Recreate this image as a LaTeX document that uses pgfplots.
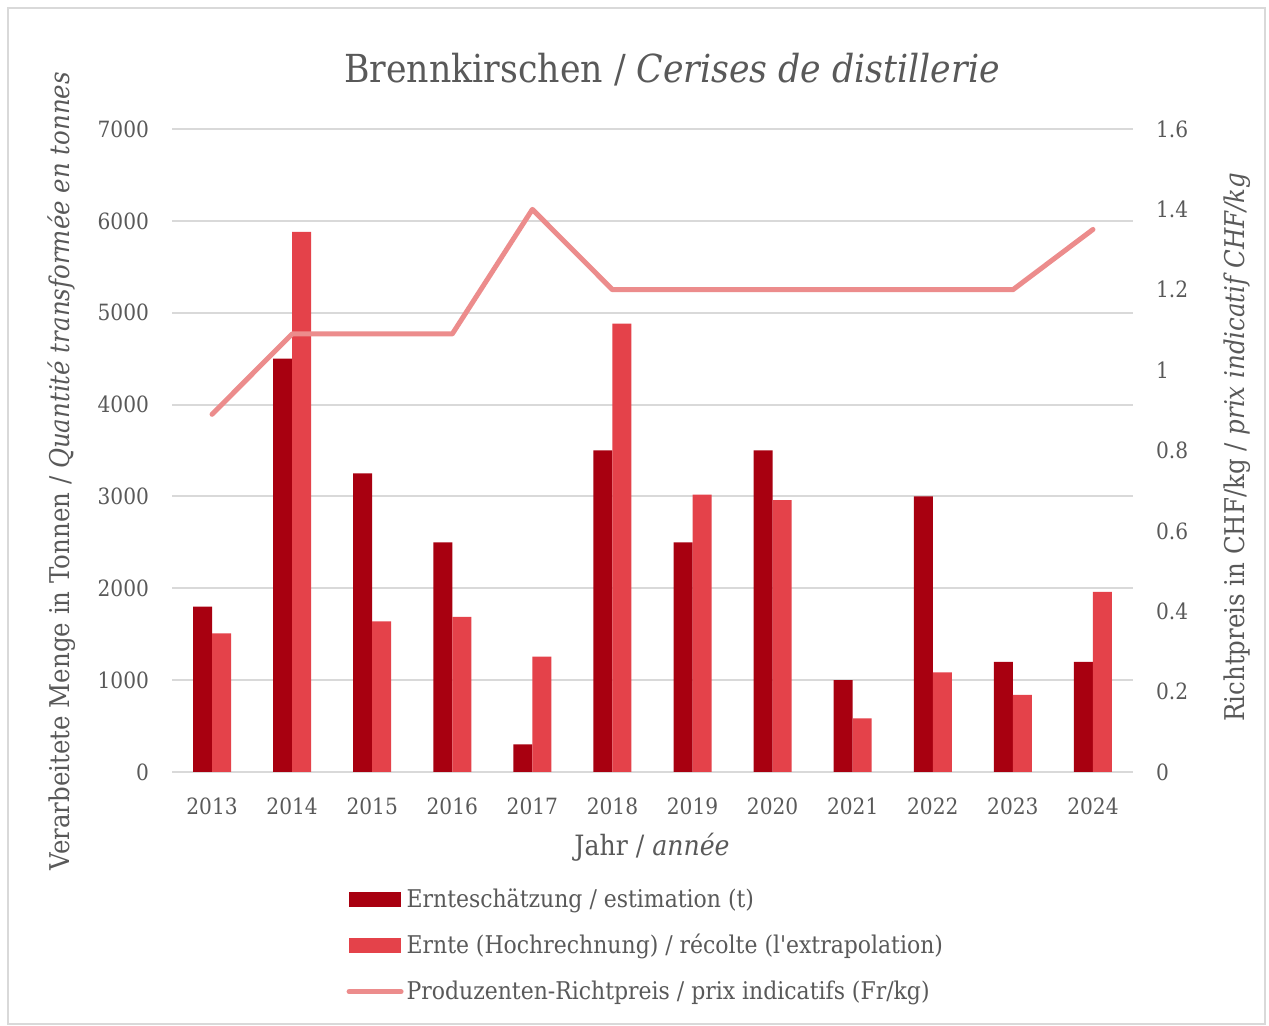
\documentclass[border=0pt]{standalone}
\usepackage{pgfplots}
\pgfplotsset{compat=1.18}
\usepackage{fontspec}
\setmainfont{DejaVu Serif Condensed}[Ligatures=TeXOff]
\definecolor{darkred}{HTML}{A80010}
\definecolor{lightred}{HTML}{E4424A}
\definecolor{linered}{HTML}{EC8C8C}
\definecolor{txt}{HTML}{595959}
\definecolor{gridc}{HTML}{D9D9D9}
\begin{document}
\begin{tikzpicture}[x=1pt,y=1pt]
\fill[white] (0,0) rectangle (634.5,513);
\draw[gridc, line width=0.6pt] (4,1) rectangle (632.5,509);
\node[txt, font=\fontsize{19.3}{22}\selectfont] at (336,478) {Brennkirschen / \textit{Cerises de distillerie}};
\begin{axis}[
  at={(86pt,127pt)}, anchor=south west,
  scale only axis, width=480.5pt, height=321.5pt,
  xmin=-0.5, xmax=11.5, ymin=0, ymax=7000,
  xtick={0,1,2,3,4,5,6,7,8,9,10,11},
  xticklabels={2013,2014,2015,2016,2017,2018,2019,2020,2021,2022,2023,2024},
  ytick={0,1000,2000,3000,4000,5000,6000,7000},
  ymajorgrids, grid style={gridc, line width=1pt},
  axis line style={draw=none}, major tick length=0pt,
  tick label style={txt, font=\fontsize{11.2}{13}\selectfont},
  yticklabel style={xshift=-8pt},
  xticklabel style={yshift=-9.5pt},
  /pgf/number format/1000 sep={},
  /pgf/number format/assume math mode=true,
  ybar=0pt, bar width=9.5pt,
  xlabel={Jahr / \textit{année}},
  xlabel style={txt, font=\fontsize{14}{16}\selectfont, at={(axis description cs:0.4995,-0.1166)}, anchor=center},
  ylabel={Verarbeitete Menge in Tonnen / \textit{Quantité transformée en tonnes}},
  ylabel style={txt, font=\fontsize{13.6}{16}\selectfont, at={(axis description cs:-0.1145,0.468)}, anchor=center},
  legend style={at={(axis description cs:0.175,-0.17)}, anchor=north west, draw=none, fill=none,
    font=\fontsize{12.2}{14}\selectfont, text=txt, row sep=9pt,
    nodes={inner sep=1.5pt}},
  legend cell align=left,
]
\addplot[fill=darkred, draw=none,
  legend image code/.code={\fill[darkred] (0pt,-3.75pt) rectangle (26pt,3.75pt);}]
  coordinates {(0,1800)(1,4500)(2,3250)(3,2500)(4,300)(5,3500)(6,2500)(7,3500)(8,1000)(9,3000)(10,1200)(11,1200)};
\addlegendentry{Ernteschätzung / estimation (t)}
\addplot[fill=lightred, draw=none,
  legend image code/.code={\fill[lightred] (0pt,-3.75pt) rectangle (26pt,3.75pt);}]
  coordinates {(0,1510)(1,5880)(2,1640)(3,1690)(4,1255)(5,4880)(6,3020)(7,2960)(8,585)(9,1085)(10,840)(11,1960)};
\addlegendentry{Ernte (Hochrechnung) / récolte (l'extrapolation)}
\addlegendimage{legend image code/.code={\draw[linered, line width=2.5pt, line cap=round] (0pt,0pt) -- (26pt,0pt);}}
\addlegendentry{Produzenten-Richtpreis / prix indicatifs (Fr/kg)}
\end{axis}
\begin{axis}[
  at={(86pt,127pt)}, anchor=south west,
  scale only axis, width=480.5pt, height=321.5pt,
  xmin=-0.5, xmax=11.5, ymin=0, ymax=1.6,
  axis x line=none, axis y line*=right,
  axis line style={draw=none}, major tick length=0pt,
  ytick={0,0.2,0.4,0.6,0.8,1,1.2,1.4,1.6},
  tick label style={txt, font=\fontsize{11.2}{13}\selectfont},
  yticklabel style={xshift=8pt},
  /pgf/number format/assume math mode=true,
  ylabel={Richtpreis in CHF/kg / \textit{prix indicatif CHF/kg}},
  ylabel style={txt, font=\fontsize{13.6}{16}\selectfont, at={(axis description cs:1.108,0.505)}, anchor=center},
]
\addplot[linered, line width=2.5pt, line join=round, line cap=round]
  coordinates {(0,0.89)(1,1.09)(2,1.09)(3,1.09)(4,1.4)(5,1.2)(6,1.2)(7,1.2)(8,1.2)(9,1.2)(10,1.2)(11,1.35)};
\end{axis}
\end{tikzpicture}
\end{document}
